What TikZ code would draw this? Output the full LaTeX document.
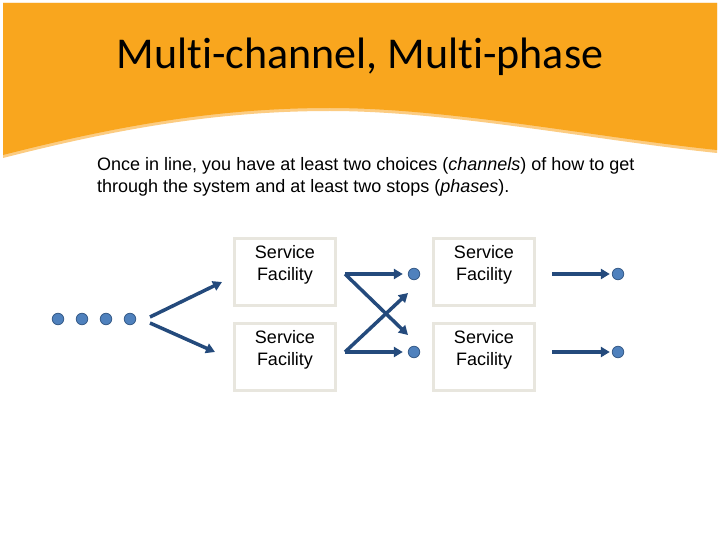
\documentclass[tikz,border=0pt]{standalone}
\usepackage{fontspec}
\setmainfont{Liberation Sans}
\newfontfamily\titlefont[Ligatures=NoCommon]{Carlito}
\usepackage{xcolor}
\usepackage{tikz}
\usetikzlibrary{arrows.meta}
\usetikzlibrary{positioning}
\definecolor{banner}{RGB}{249,166,30}
\definecolor{bannerlight}{RGB}{252,204,130}
\definecolor{flow}{RGB}{36,74,124}
\definecolor{dotfill}{RGB}{79,129,189}
\definecolor{dotline}{RGB}{56,93,138}
\definecolor{boxline}{RGB}{232,230,222}
\tikzset{>={Triangle[length=9pt,width=10pt]}}

\begin{document}
\begin{tikzpicture}[x=1pt, y=-1pt,
    facility/.style={draw=boxline, line width=3pt, inner sep=0pt},
    customer/.style={circle, fill=dotfill, draw=dotline, line width=0.8pt, minimum size=11.5pt, inner sep=0pt},
    flowline/.style={->, draw=flow, line width=3.5pt}]
            \useasboundingbox (0,0) rectangle (720,540);
            \fill[white] (0,0) rectangle (720,540);
            % banner
            \fill[bannerlight] (3,3) -- (717,3) -- (717,153) .. controls (600,141) and (450,111) .. (330,111) .. controls (220,111) and (120,128) .. (3,158) -- cycle;
            \fill[banner] (3,3) -- (717,3) -- (717,150) .. controls (600,138) and (450,108) .. (330,108) .. controls (220,108) and (120,125) .. (3,155) -- cycle;
            \node[anchor=base] (title) at (360,69) {\titlefont\fontsize{44}{52}\selectfont Multi-channel, Multi-phase};
            \node[anchor=base west, align=left, inner sep=0pt, font=\fontsize{18}{22}\selectfont] (intro) at (97,193)
                {Once in line, you have at least two choices (\textit{channels}) of how to get\\through the system and at least two stops (\textit{phases}).};
            % facilities
            \node[facility] (svc-a1) at (285,272) {\parbox[c][67pt][t]{101pt}{\centering\vspace*{7pt}\fontsize{18}{22}\selectfont Service\\Facility}};
            \node[facility, below=15pt of svc-a1] (svc-a2) {\parbox[c][67pt][t]{101pt}{\centering\vspace*{7pt}\fontsize{18}{22}\selectfont Service\\Facility}};
            \node[facility, right=95pt of svc-a1] (svc-b1) {\parbox[c][67pt][t]{101pt}{\centering\vspace*{7pt}\fontsize{18}{22}\selectfont Service\\Facility}};
            \node[facility, right=95pt of svc-a2] (svc-b2) {\parbox[c][67pt][t]{101pt}{\centering\vspace*{7pt}\fontsize{18}{22}\selectfont Service\\Facility}};
            % waiting line
            \node[customer] (queue-1) at (58,319) {};
            \node[customer, right=11.7pt of queue-1] (queue-2) {};
            \node[customer, right=11.7pt of queue-2] (queue-3) {};
            \node[customer, right=11.7pt of queue-3] (queue-4) {};
            \node[customer] (mid-1) at (414,274) {};
            \node[customer] (mid-2) at (414,352) {};
            \node[customer] (out-1) at (618,274) {};
            \node[customer] (out-2) at (618,352) {};
            \coordinate (split-up) at (150,317);
            \coordinate (split-down) at (150,323);
            \coordinate (split-up-end) at (222,282);
            \coordinate (split-down-end) at (215,352);
            \coordinate (cross-top) at (345,274);
            \coordinate (cross-bottom) at (345,352);
            \coordinate (cross-down-end) at (408,335);
            \coordinate (cross-up-end) at (408,293);
            \coordinate (out-1-start) at (552,274);
            \coordinate (out-2-start) at (552,352);
            \draw[flowline] (split-up) -- (split-up-end);
            \draw[flowline] (split-down) -- (split-down-end);
            \draw[flowline, shorten >=5pt] (cross-top) -- (mid-1);
            \draw[flowline, shorten >=5pt] (cross-bottom) -- (mid-2);
            \draw[flowline] (cross-top) -- (cross-down-end);
            \draw[flowline] (cross-bottom) -- (cross-up-end);
            \draw[flowline, shorten >=2pt] (out-1-start) -- (out-1);
            \draw[flowline, shorten >=2pt] (out-2-start) -- (out-2);
        \end{tikzpicture}
\end{document}
